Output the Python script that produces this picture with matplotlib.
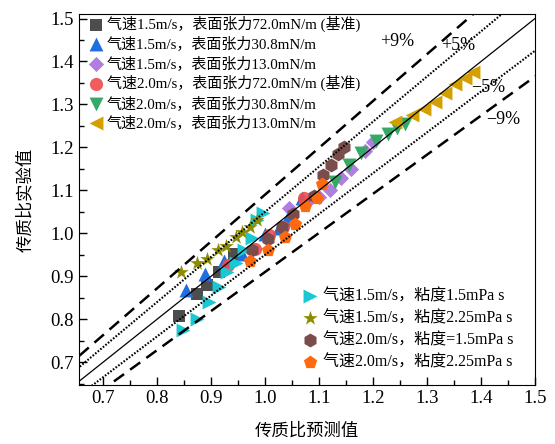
import numpy as np
import matplotlib
matplotlib.use('Agg')
import matplotlib.pyplot as plt
from matplotlib.ticker import MultipleLocator, FormatStrFormatter

plt.rcParams['font.family'] = ['Liberation Serif', 'Noto Sans CJK SC']
plt.rcParams['axes.unicode_minus'] = False

sq_x = [0.840, 0.874, 0.892, 0.915, 0.943]
sq_y = [0.807, 0.859, 0.880, 0.910, 0.952]
up_x = [0.853, 0.888, 0.923, 0.958, 1.000, 1.025, 1.040, 1.068]
up_y = [0.868, 0.905, 0.936, 0.952, 0.998, 1.012, 1.033, 1.082]
dia_x = [1.045, 1.075, 1.100, 1.120, 1.140, 1.160, 1.185, 1.200]
dia_y = [1.058, 1.070, 1.085, 1.100, 1.128, 1.149, 1.192, 1.212]
cir_x = [0.932, 0.981, 1.007, 1.033, 1.072]
cir_y = [0.927, 0.964, 0.996, 1.015, 1.083]
dn_x = [1.130, 1.155, 1.178, 1.205, 1.228, 1.245, 1.260]
dn_y = [1.120, 1.160, 1.187, 1.215, 1.232, 1.245, 1.255]
lt_x = [1.241, 1.272, 1.295, 1.314, 1.333, 1.352, 1.370, 1.386]
lt_y = [1.258, 1.275, 1.290, 1.305, 1.326, 1.347, 1.362, 1.376]
rt_x = [0.848, 0.873, 0.896, 0.915, 0.930, 0.946, 0.961, 0.975, 0.985, 0.997]
rt_y = [0.775, 0.801, 0.840, 0.875, 0.911, 0.930, 0.962, 0.988, 1.030, 1.047]
st_x = [0.844, 0.874, 0.893, 0.912, 0.928, 0.947, 0.957, 0.972, 0.985]
st_y = [0.911, 0.931, 0.940, 0.960, 0.970, 0.991, 1.003, 1.015, 1.031]
hx_x = [0.975, 1.005, 1.031, 1.052, 1.090, 1.108, 1.122, 1.135, 1.147]
hx_y = [0.960, 0.986, 1.015, 1.045, 1.087, 1.135, 1.158, 1.185, 1.201]
pn_x = [0.973, 1.005, 1.036, 1.056, 1.074, 1.096, 1.106]
pn_y = [0.935, 0.962, 0.991, 1.022, 1.063, 1.083, 1.115]

labels1 = ['气速1.5m/s，表面张力72.0mN/m (基准)',
           '气速1.5m/s，表面张力30.8mN/m',
           '气速1.5m/s，表面张力13.0mN/m',
           '气速2.0m/s，表面张力72.0mN/m (基准)',
           '气速2.0m/s，表面张力30.8mN/m',
           '气速2.0m/s，表面张力13.0mN/m']
labels2 = ['气速1.5m/s，粘度1.5mPa s',
           '气速1.5m/s，粘度2.25mPa s',
           '气速2.0m/s，粘度=1.5mPa s',
           '气速2.0m/s，粘度2.25mPa s']

fig = plt.figure(figsize=(5.55, 4.44), dpi=100)
ax = fig.add_axes([0.142, 0.133, 0.822, 0.835])

h1 = []
h1.append(ax.scatter(sq_x, sq_y, marker='s', s=65, color='#4d4d4d', lw=0))
h1.append(ax.scatter(up_x, up_y, marker='^', s=100, color='#1f6fe0', lw=0))
h1.append(ax.scatter(dia_x, dia_y, marker='D', s=60, color='#b07ee0', lw=0))
h1.append(ax.scatter(cir_x, cir_y, marker='o', s=90, color='#f04a4a', lw=0, alpha=0.9))
h1.append(ax.scatter(dn_x, dn_y, marker='v', s=100, color='#36a867', lw=0))
h1.append(ax.scatter(lt_x, lt_y, marker='<', s=100, color='#d4a000', lw=0))

h2 = []
h2.append(ax.scatter(rt_x, rt_y, marker='>', s=100, color='#19c8d2', lw=0))
h2.append(ax.scatter(st_x, st_y, marker='*', s=120, color='#8c8c00', lw=0))
h2.append(ax.scatter(hx_x, hx_y, marker='h', s=100, color='#7a4c4c', lw=0))
h2.append(ax.scatter(pn_x, pn_y, marker='p', s=100, color='#ff6a10', lw=0))

# reference lines
xl = np.array([0.6, 1.6])
ax.plot(xl, xl, color='black', lw=0.9, zorder=5)
ax.plot(xl, 1.05 * xl, color='black', lw=1.5, ls=(0, (0.8, 0.8)), zorder=5)
ax.plot(xl, 0.95 * xl, color='black', lw=1.5, ls=(0, (0.8, 0.8)), zorder=5)
ax.plot(xl, 1.09 * xl, color='black', lw=1.8, ls=(0, (5, 3)), zorder=5)
ax.plot(xl, 0.91 * xl, color='black', lw=1.8, ls=(0, (5, 3)), zorder=5)

ax.text(1.244, 1.447, '+9%', fontsize=13, ha='center', va='center')
ax.text(1.357, 1.436, '+5%', fontsize=13, ha='center', va='center')
ax.text(1.413, 1.339, '−5%', fontsize=13, ha='center', va='center')
ax.text(1.441, 1.264, '−9%', fontsize=13, ha='center', va='center')

ax.set_xlim(0.655, 1.5)
ax.set_ylim(0.647, 1.51)
ax.xaxis.set_major_locator(MultipleLocator(0.1))
ax.xaxis.set_minor_locator(MultipleLocator(0.05))
ax.yaxis.set_major_locator(MultipleLocator(0.1))
ax.yaxis.set_minor_locator(MultipleLocator(0.05))
ax.tick_params(which='both', direction='in', top=False, right=False, labelsize=13.5)
ax.tick_params(which='major', length=6, width=1)
ax.tick_params(which='minor', length=3.5, width=1)
ax.xaxis.set_major_formatter(FormatStrFormatter('%.1f'))
ax.yaxis.set_major_formatter(FormatStrFormatter('%.1f'))

ax.set_xlabel('传质比预测值', fontsize=12.5, labelpad=12)
ax.set_ylabel('传质比实验值', fontsize=12.5, labelpad=12)

leg1 = ax.legend(h1, labels1, loc='upper left', bbox_to_anchor=(-0.005, 1.025),
                 frameon=False, fontsize=10.8, handletextpad=0.1, handlelength=1.2,
                 labelspacing=0.3, borderaxespad=0.3)
ax.add_artist(leg1)
ax.legend(h2, labels2, loc='lower right', bbox_to_anchor=(0.985, 0.0),
          frameon=False, fontsize=11.5, handletextpad=0.25, handlelength=1.2,
          labelspacing=0.38)

fig.savefig('out.png', dpi=100)
